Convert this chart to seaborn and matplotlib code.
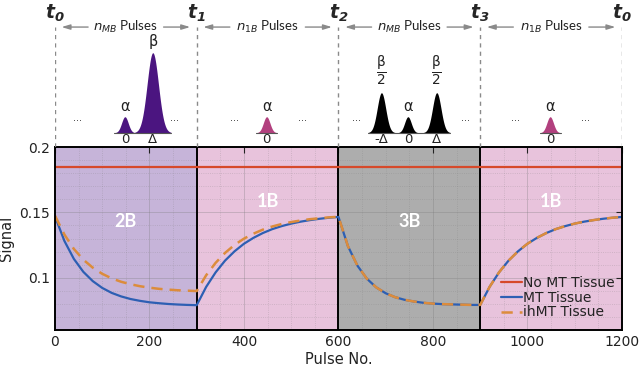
import matplotlib
matplotlib.use('Agg')
import matplotlib.pyplot as plt
from matplotlib.ticker import MultipleLocator, FuncFormatter
import numpy as np
import pandas as pd
import seaborn as sns

# ---- data ----
pulse_no = list(range(0, 1201, 20))

mt_signal = [0.1470, 0.1281, 0.1144, 0.1045, 0.0974, 0.0922, 0.0884, 0.0857, 0.0837, 0.0823,
             0.0812, 0.0805, 0.0799, 0.0795, 0.0792, 0.0790,
             0.0930, 0.1041, 0.1131, 0.1202, 0.1260, 0.1305, 0.1342, 0.1372, 0.1395, 0.1414,
             0.1429, 0.1441, 0.1451, 0.1459, 0.1465,
             0.1242, 0.1093, 0.0993, 0.0926, 0.0881, 0.0851, 0.0831, 0.0818, 0.0808, 0.0802,
             0.0798, 0.0796, 0.0794, 0.0792, 0.0792,
             0.0931, 0.1042, 0.1131, 0.1202, 0.1260, 0.1305, 0.1342, 0.1372, 0.1395, 0.1414,
             0.1429, 0.1441, 0.1451, 0.1459, 0.1465]

ihmt_signal = [0.1475, 0.1330, 0.1220, 0.1138, 0.1077, 0.1030, 0.0995, 0.0969, 0.0950, 0.0935,
               0.0924, 0.0915, 0.0909, 0.0904, 0.0901, 0.0898,
               0.1019, 0.1114, 0.1190, 0.1251, 0.1299, 0.1337, 0.1368, 0.1392, 0.1411, 0.1426,
               0.1438, 0.1448, 0.1455, 0.1462, 0.1466,
               0.1242, 0.1093, 0.0993, 0.0926, 0.0881, 0.0851, 0.0831, 0.0818, 0.0808, 0.0802,
               0.0798, 0.0796, 0.0794, 0.0792, 0.0792,
               0.0931, 0.1042, 0.1131, 0.1202, 0.1260, 0.1305, 0.1342, 0.1372, 0.1395, 0.1414,
               0.1429, 0.1441, 0.1451, 0.1459, 0.1465]

nomt_x = [0, 1200]
nomt_signal = [0.185, 0.185]

seg_edges = [0, 300, 600, 900, 1200]
seg_names = ['2B', '1B', '3B', '1B']
seg_label_y = [0.143, 0.158, 0.143, 0.158]
time_labels = [r'$\mathbfit{t}_\mathbfit{0}$', r'$\mathbfit{t}_\mathbfit{1}$',
               r'$\mathbfit{t}_\mathbfit{2}$', r'$\mathbfit{t}_\mathbfit{3}$',
               r'$\mathbfit{t}_\mathbfit{0}$']
count_labels = [r'$n_{MB}$ Pulses', r'$n_{1B}$ Pulses', r'$n_{MB}$ Pulses', r'$n_{1B}$ Pulses']

pulse_center = [148, 207, 448, 691, 747, 808, 1048]
pulse_height = [1, 5, 1, 2.5, 1, 2.5, 1]
pulse_group = [0, 0, 1, 2, 2, 2, 3]
half_beta = r'$\frac{\mathrm{\beta}}{\mathrm{2}}$'
pulse_top = ['α', 'β', 'α', half_beta, 'α', half_beta, 'α']
pulse_bottom = ['0', 'Δ', '0', '-Δ', '0', 'Δ', '0']
ellipsis_x = [47, 254, 381, 523, 639, 868, 974, 1122]

# ---- styles ----
seg_bg = ['#c6b4d9', '#e8c3dc', '#adadad', '#e8c3dc']
pulse_col = ['#4b1580', '#b2407e', '#000000', '#b2407e']
pulse_sigma = [7, 12, 7, 9, 7, 9, 7]

sns.set_style('white')
plt.rcParams['font.family'] = ['DejaVu Sans']
plt.rcParams['mathtext.fontset'] = 'dejavusans'

fig = plt.figure(figsize=(6.4, 3.67), dpi=100)
ax = fig.add_axes([0.0859, 0.1008, 0.8859, 0.4986])
axt = fig.add_axes([0.0859, 0.5995, 0.8859, 0.4005])

# ---- main panel ----
for i in range(4):
    ax.axvspan(seg_edges[i], seg_edges[i + 1], color=seg_bg[i], lw=0, zorder=0)
    ax.text((seg_edges[i] + seg_edges[i + 1]) / 2, seg_label_y[i], seg_names[i],
            color='white', fontsize=13, fontweight='bold', family='Lato',
            ha='center', va='center', zorder=3)
for e in seg_edges[1:-1]:
    ax.axvline(e, color='black', lw=1.4, zorder=4)

sns.lineplot(x=nomt_x, y=nomt_signal, ax=ax, color='#d6492a', lw=1.6,
             label='No MT Tissue', zorder=5)
sns.lineplot(x=pulse_no, y=mt_signal, ax=ax, color='#2d5fb3', lw=1.6,
             label='MT Tissue', zorder=5)
sns.lineplot(x=pulse_no, y=ihmt_signal, ax=ax, color='#dc8c3c', lw=1.8,
             label='ihMT Tissue', zorder=6)
ax.lines[-1].set_dashes([4.5, 2.8])

ax.set_xlim(0, 1200)
ax.set_ylim(0.06, 0.2)
ax.xaxis.set_major_locator(MultipleLocator(200))
ax.xaxis.set_minor_locator(MultipleLocator(50))
ax.yaxis.set_major_locator(MultipleLocator(0.05))
ax.yaxis.set_minor_locator(MultipleLocator(0.01))
ax.yaxis.set_major_formatter(FuncFormatter(lambda v, p: '%g' % round(v, 3)))
ax.grid(True, which='major', color='#777777', alpha=0.3, lw=0.7)
ax.grid(True, which='minor', color='#777777', alpha=0.3, lw=0.6, ls=':')
ax.set_axisbelow(False)
for l in ax.get_xgridlines() + ax.get_ygridlines():
    l.set_zorder(1)
ax.tick_params(which='both', direction='in', top=True, right=True, labelsize=10,
               colors='#222222')
ax.tick_params(which='major', length=4, width=0.8)
ax.tick_params(which='minor', length=0)
for s in ax.spines.values():
    s.set_color('black')
    s.set_linewidth(1.4)
    s.set_zorder(7)
ax.set_xlabel('Pulse No.', fontsize=10.5, color='#222222', labelpad=2)
ax.set_ylabel('Signal', fontsize=10.5, color='#222222', labelpad=4)
leg = ax.legend(loc='lower right', frameon=False, fontsize=10, handlelength=1.5,
                handletextpad=0.1, labelspacing=0.05, borderaxespad=0.1,
                bbox_to_anchor=(1.0, 0.02))
for t in leg.get_texts():
    t.set_color('#222222')

# ---- pulse schematic ----
axt.set_xlim(0, 1200)
axt.set_ylim(-0.89, 8.29)
axt.axis('off')

for i, e in enumerate(seg_edges):
    axt.plot([e, e], [-0.89, 6.6], color='#8a8a8a', lw=1.0, ls=(0, (3, 3)))
    axt.text(e, 7.45, time_labels[i], fontsize=13.5, ha='center', va='center')

for i in range(4):
    a, b = seg_edges[i], seg_edges[i + 1]
    mid = (a + b) / 2
    axt.text(mid, 6.6, count_labels[i], fontsize=9.5, ha='center', va='center',
             family='Lato', color='#222222')
    kw = dict(arrowstyle='-|>,head_length=0.5,head_width=0.15', color='#8a8a8a', lw=1.0)
    axt.annotate('', xy=(a + 8, 6.6), xytext=(mid - 74, 6.6), arrowprops=kw)
    axt.annotate('', xy=(b - 8, 6.6), xytext=(mid + 74, 6.6), arrowprops=kw)

for g in range(4):
    idx = [k for k in range(len(pulse_center)) if pulse_group[k] == g]
    lo = min(pulse_center[k] - 3.2 * pulse_sigma[k] for k in idx)
    hi = max(pulse_center[k] + 3.2 * pulse_sigma[k] for k in idx)
    axt.plot([lo, hi], [0, 0], color='#555555', lw=0.8)

for k in range(len(pulse_center)):
    c, h, s = pulse_center[k], pulse_height[k], pulse_sigma[k]
    xs = np.linspace(c - 3.2 * s, c + 3.2 * s, 80)
    ys = h * np.exp(-0.5 * ((xs - c) / s) ** 2)
    col = pulse_col[pulse_group[k]]
    axt.fill_between(xs, 0, ys, color=col, lw=0)
    is_frac = 'frac' in pulse_top[k]
    axt.text(c, h + (0.3 if is_frac else 0.2), pulse_top[k], fontsize=14 if is_frac else 10.5,
             ha='center', va='bottom', color='#222222')
    axt.text(c, -0.45, pulse_bottom[k], fontsize=9.5, ha='center', va='center',
             color='#222222')

for x in ellipsis_x:
    axt.text(x, 0.75, '...', fontsize=7, ha='center', va='baseline', color='#333333')

fig.savefig('out.png', dpi=100)
